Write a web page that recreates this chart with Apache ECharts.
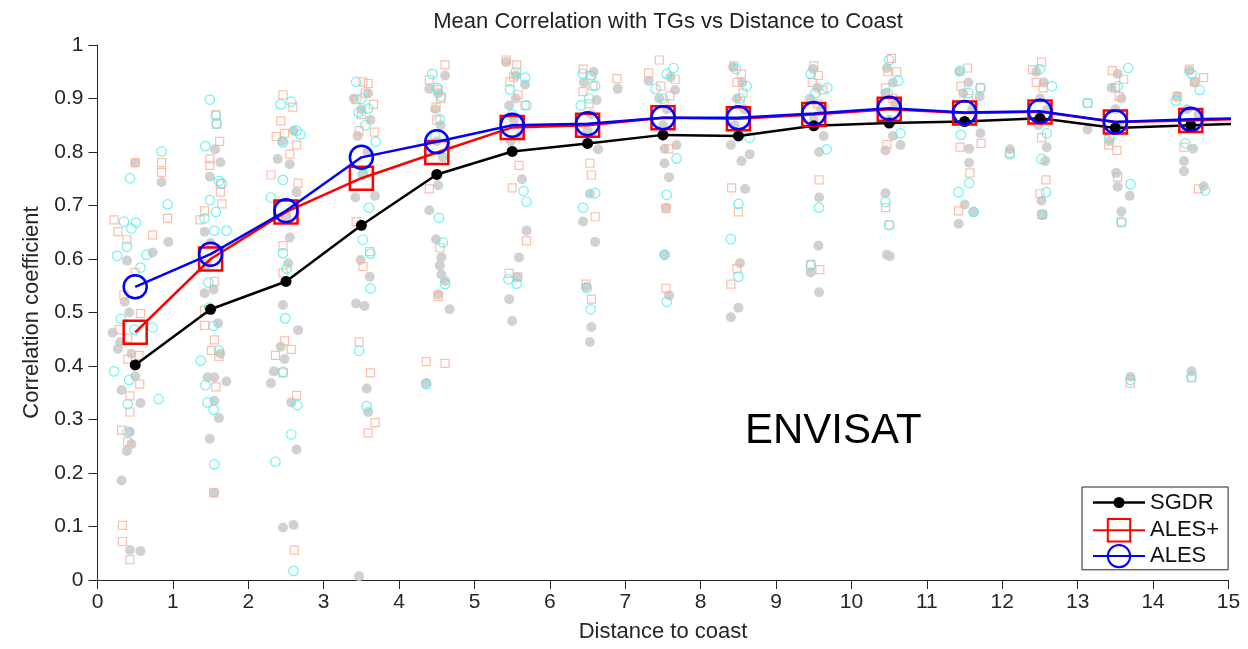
<!DOCTYPE html>
<html><head><meta charset="utf-8">
<script src="https://cdn.jsdelivr.net/npm/echarts@6/dist/echarts.min.js"></script>
<style>html,body{margin:0;padding:0;background:#fff}#c{width:1248px;height:649px}</style>
</head><body><div id="c"></div>
<script>
// Bin centres (km); the last bin lies beyond the axis and is clipped by the plot edge
const distanceBins = [0.5,1.5,2.5,3.5,4.5,5.5,6.5,7.5,8.5,9.5,10.5,11.5,12.5,13.5,14.5,15.5];
const sgdrMean     = [0.402,0.506,0.558,0.663,0.758,0.801,0.816,0.832,0.830,0.849,0.854,0.857,0.863,0.845,0.850,0.854];
const alesPlusMean = [0.463,0.600,0.688,0.751,0.799,0.846,0.850,0.864,0.862,0.870,0.880,0.873,0.875,0.856,0.859,0.863];
const alesMean     = [0.548,0.609,0.690,0.790,0.819,0.850,0.853,0.864,0.864,0.872,0.882,0.874,0.876,0.856,0.861,0.864];

// individual tide-gauge correlations [distance, r]
const sgdrPts = [
[0.50,0.780],[0.85,0.744],[0.94,0.632],[0.73,0.612],[0.39,0.597],[0.36,0.520],[0.20,0.462],[0.27,0.432],[0.45,0.423],[0.50,0.381],[0.32,0.355],[0.57,0.331],[0.43,0.277],[0.45,0.254],[0.39,0.241],[0.32,0.186],[0.43,0.056],[0.57,0.054],[0.30,0.445],[0.42,0.500],
[1.56,0.805],[1.63,0.781],[1.49,0.754],[1.42,0.651],[1.50,0.630],[1.42,0.536],[1.54,0.543],[1.63,0.423],[1.46,0.379],[1.55,0.379],[1.71,0.371],[1.55,0.335],[1.61,0.303],[1.49,0.264],[1.55,0.163],[1.45,0.590],[1.60,0.480],
[2.39,0.787],[2.55,0.777],[2.64,0.725],[2.53,0.592],[2.46,0.514],[2.66,0.467],[2.43,0.436],[2.48,0.413],[2.34,0.390],[2.30,0.368],[2.57,0.332],[2.64,0.244],[2.46,0.098],[2.60,0.103],[2.50,0.680],[2.45,0.820],[2.60,0.840],[2.55,0.640],
[3.59,0.910],[3.50,0.880],[3.62,0.860],[3.45,0.830],[3.58,0.800],[3.42,0.715],[3.68,0.718],[3.49,0.598],[3.61,0.567],[3.43,0.517],[3.54,0.512],[3.57,0.358],[3.59,0.314],[3.47,0.007],[3.52,0.760],[3.40,0.900],
[4.61,0.943],[4.40,0.918],[4.52,0.910],[4.48,0.880],[4.55,0.850],[4.50,0.820],[4.52,0.738],[4.40,0.691],[4.49,0.637],[4.56,0.603],[4.54,0.588],[4.56,0.571],[4.61,0.559],[4.52,0.534],[4.67,0.506],[4.36,0.368],[4.58,0.790],
[5.42,0.968],[5.55,0.943],[5.67,0.926],[5.46,0.887],[5.52,0.860],[5.60,0.830],[5.48,0.820],[5.63,0.749],[5.69,0.653],[5.59,0.603],[5.57,0.566],[5.46,0.525],[5.50,0.484],[5.55,0.900],
[6.90,0.918],[6.62,0.897],[6.45,0.930],[6.55,0.870],[6.50,0.840],[6.64,0.805],[6.53,0.722],[6.44,0.670],[6.60,0.632],[6.48,0.548],[6.55,0.473],[6.53,0.445],[6.58,0.950],
[7.31,0.933],[7.66,0.916],[7.45,0.900],[7.55,0.880],[7.50,0.850],[7.68,0.813],[7.52,0.806],[7.52,0.779],[7.58,0.753],[7.54,0.696],[7.52,0.608],[7.58,0.532],[7.60,0.940],
[8.43,0.959],[8.55,0.930],[8.48,0.900],[8.58,0.880],[8.45,0.850],[8.40,0.813],[8.54,0.783],[8.65,0.796],[8.59,0.731],[8.52,0.592],[8.50,0.509],[8.40,0.491],
[9.49,0.955],[9.55,0.920],[9.45,0.900],[9.60,0.880],[9.50,0.860],[9.57,0.800],[9.57,0.715],[9.56,0.625],[9.46,0.575],[9.57,0.538],[9.63,0.830],
[10.47,0.957],[10.55,0.930],[10.45,0.910],[10.58,0.890],[10.50,0.860],[10.45,0.803],[10.65,0.813],[10.45,0.723],[10.47,0.608],[10.51,0.605],[10.55,0.830],
[11.43,0.950],[11.55,0.930],[11.48,0.910],[11.70,0.904],[11.60,0.880],[11.71,0.835],[11.56,0.806],[11.56,0.780],[11.50,0.702],[11.62,0.688],[11.42,0.666],
[12.10,0.805],[13.13,0.842],[12.45,0.950],[12.55,0.930],[12.50,0.900],[12.60,0.880],[12.59,0.809],[12.57,0.783],[12.52,0.709],[12.53,0.683],[12.48,0.850],
[13.53,0.946],[13.45,0.920],[13.58,0.900],[13.50,0.880],[13.42,0.820],[13.51,0.761],[13.53,0.735],[13.69,0.718],[13.58,0.689],[13.70,0.380],[13.55,0.850],
[14.48,0.952],[14.55,0.930],[14.32,0.904],[14.45,0.880],[14.53,0.806],[14.41,0.783],[14.41,0.764],[14.67,0.736],[14.51,0.390],[14.60,0.870]
];
const alesPlusPts = [
[0.50,0.780],[0.85,0.780],[0.85,0.762],[0.22,0.673],[0.27,0.651],[0.39,0.636],[0.73,0.645],[0.93,0.676],[0.50,0.575],[0.35,0.533],[0.57,0.498],[0.29,0.468],[0.40,0.452],[0.55,0.420],[0.40,0.413],[0.56,0.366],[0.43,0.344],[0.43,0.314],[0.32,0.280],[0.40,0.258],[0.33,0.102],[0.33,0.072],[0.43,0.038],
[1.57,0.870],[1.58,0.852],[1.62,0.820],[1.49,0.787],[1.49,0.775],[1.63,0.741],[1.63,0.725],[1.65,0.703],[1.42,0.690],[1.36,0.673],[1.55,0.558],[1.42,0.504],[1.42,0.476],[1.55,0.449],[1.51,0.429],[1.61,0.418],[1.57,0.361],[1.54,0.163],
[2.46,0.907],[2.59,0.884],[2.43,0.858],[2.37,0.829],[2.48,0.835],[2.64,0.813],[2.55,0.796],[2.30,0.757],[2.66,0.742],[2.50,0.679],[2.46,0.625],[2.46,0.574],[2.48,0.447],[2.57,0.431],[2.36,0.420],[2.46,0.387],[2.64,0.345],[2.61,0.056],
[3.52,0.931],[3.59,0.928],[3.43,0.898],[3.66,0.889],[3.55,0.910],[3.50,0.870],[3.47,0.840],[3.67,0.837],[3.43,0.670],[3.61,0.614],[3.52,0.586],[3.47,0.445],[3.62,0.387],[3.68,0.294],[3.59,0.275],
[4.61,0.963],[4.40,0.935],[4.52,0.917],[4.49,0.884],[4.55,0.900],[4.50,0.860],[4.40,0.731],[4.54,0.621],[4.52,0.530],[4.36,0.408],[4.61,0.405],
[5.42,0.972],[5.56,0.963],[5.47,0.931],[5.58,0.907],[5.67,0.887],[5.52,0.940],[5.59,0.775],[5.50,0.733],[5.69,0.634],[5.46,0.573],[5.57,0.566],
[6.44,0.955],[6.53,0.943],[6.57,0.923],[6.89,0.937],[6.44,0.913],[6.52,0.890],[6.53,0.779],[6.55,0.757],[6.60,0.679],[6.48,0.553],[6.55,0.525],
[7.45,0.972],[7.31,0.948],[7.66,0.936],[7.47,0.923],[7.59,0.905],[7.52,0.890],[7.58,0.806],[7.54,0.694],[7.54,0.545],
[8.44,0.961],[8.54,0.946],[8.56,0.910],[8.48,0.930],[8.52,0.890],[8.41,0.733],[8.50,0.688],[8.48,0.582],[8.40,0.553],
[9.50,0.961],[9.56,0.943],[9.62,0.916],[9.48,0.930],[9.55,0.890],[9.57,0.748],[9.58,0.580],[9.46,0.590],
[10.53,0.975],[10.48,0.950],[10.60,0.950],[10.45,0.920],[10.55,0.900],[10.47,0.814],[10.45,0.696],[10.50,0.664],
[11.54,0.957],[11.45,0.923],[11.71,0.920],[11.55,0.900],[11.44,0.809],[11.72,0.816],[11.57,0.761],[11.42,0.690],
[12.52,0.968],[12.40,0.954],[12.54,0.920],[12.45,0.930],[12.10,0.798],[13.13,0.891],[12.52,0.827],[12.58,0.748],[12.53,0.683],[12.50,0.722],
[13.46,0.952],[13.61,0.936],[13.55,0.904],[13.50,0.920],[13.41,0.813],[13.52,0.803],[13.53,0.753],[13.58,0.668],[13.70,0.368],
[14.48,0.955],[14.55,0.931],[14.67,0.939],[14.32,0.904],[14.41,0.809],[14.60,0.731],[14.51,0.378]
];
const alesPts = [
[0.85,0.801],[0.43,0.751],[0.93,0.702],[0.35,0.670],[0.51,0.668],[0.45,0.657],[0.39,0.623],[0.26,0.606],[0.65,0.608],[0.57,0.584],[0.31,0.488],[0.49,0.468],[0.73,0.472],[0.22,0.390],[0.42,0.374],[0.81,0.338],[0.40,0.329],[0.40,0.277],
[1.49,0.898],[1.57,0.868],[1.58,0.853],[1.43,0.811],[1.61,0.746],[1.65,0.741],[1.49,0.710],[1.57,0.688],[1.42,0.676],[1.55,0.653],[1.71,0.653],[1.47,0.556],[1.48,0.509],[1.54,0.475],[1.61,0.429],[1.37,0.410],[1.43,0.364],[1.46,0.332],[1.54,0.318],[1.55,0.216],
[2.43,0.889],[2.57,0.894],[2.64,0.840],[2.69,0.833],[2.46,0.818],[2.46,0.748],[2.30,0.715],[2.46,0.611],[2.51,0.582],[2.49,0.489],[2.46,0.389],[2.65,0.327],[2.57,0.272],[2.36,0.221],[2.60,0.017],
[3.43,0.931],[3.46,0.874],[3.59,0.881],[3.50,0.900],[3.55,0.850],[3.69,0.819],[3.52,0.757],[3.60,0.696],[3.52,0.636],[3.62,0.610],[3.62,0.545],[3.47,0.428],[3.57,0.325],
[4.44,0.946],[4.56,0.904],[4.50,0.920],[4.54,0.861],[4.48,0.830],[4.53,0.677],[4.58,0.631],[4.61,0.553],[4.36,0.366],
[5.67,0.939],[5.47,0.917],[5.69,0.887],[5.55,0.950],[5.50,0.870],[5.65,0.727],[5.69,0.707],[5.45,0.562],[5.56,0.554],
[6.44,0.946],[6.55,0.943],[6.60,0.924],[6.41,0.887],[6.52,0.900],[6.60,0.723],[6.44,0.696],[6.49,0.546],[6.54,0.506],
[7.64,0.957],[7.55,0.946],[7.40,0.918],[7.50,0.900],[7.68,0.788],[7.55,0.720],[7.52,0.608],[7.55,0.520],
[8.47,0.955],[8.61,0.923],[8.52,0.900],[8.65,0.827],[8.50,0.703],[8.40,0.637],[8.50,0.567],
[9.46,0.946],[9.68,0.920],[9.52,0.910],[9.67,0.805],[9.57,0.696],[9.46,0.588],
[10.50,0.972],[10.62,0.933],[10.48,0.910],[10.65,0.835],[10.45,0.707],[10.50,0.663],
[11.44,0.952],[11.71,0.920],[11.55,0.910],[11.45,0.832],[11.56,0.742],[11.42,0.725],[11.62,0.688],
[12.50,0.955],[12.66,0.923],[12.10,0.796],[13.13,0.892],[12.59,0.835],[12.52,0.787],[12.58,0.725],[12.53,0.683],
[13.67,0.957],[13.53,0.923],[13.42,0.826],[13.70,0.740],[13.58,0.670],[13.70,0.374],
[14.51,0.946],[14.62,0.916],[14.30,0.896],[14.43,0.816],[14.69,0.728],[14.51,0.380]
];

const FONT = 'Liberation Sans, Arial, sans-serif';
const AX = '#262626';
// legend glyph for SGDR: line with a small dot (box 52x28 kept by corner points)
const SGDR_ICON = 'path://M0,0L0.02,0L0,0.02Z M52,28L51.98,28L52,27.98Z M0,12.75L52,12.75L52,15.25L0,15.25Z M20.5,14A5.5,5.5 0 1 1 31.5,14A5.5,5.5 0 1 1 20.5,14Z';
const chart = echarts.init(document.getElementById('c'), null, {renderer: 'canvas'});
const pair = (arr) => distanceBins.map((x, i) => [x, arr[i]]);
chart.setOption({
  animation: false,
  backgroundColor: '#fff',
  title: {
    text: 'Mean Correlation with TGs vs Distance to Coast',
    left: 663, top: 6, textAlign: 'center',
    textStyle: {fontFamily: FONT, fontSize: 22, fontWeight: 'normal', color: '#222'}
  },
  grid: {left: 97.5, right: 19.5, top: 45, bottom: 69},
  xAxis: {
    type: 'value', min: 0, max: 15, interval: 1,
    name: 'Distance to coast', nameLocation: 'middle', nameGap: 41,
    nameTextStyle: {fontFamily: FONT, fontSize: 22, color: AX},
    axisLine: {show: true, lineStyle: {color: AX, width: 1}},
    axisTick: {show: true, inside: false, length: 9, lineStyle: {color: AX}},
    axisLabel: {fontFamily: FONT, fontSize: 21, color: AX, margin: 12},
    splitLine: {show: false}
  },
  yAxis: {
    type: 'value', min: 0, max: 1, interval: 0.1,
    name: 'Correlation coefficient', nameLocation: 'middle', nameGap: 54,
    nameTextStyle: {fontFamily: FONT, fontSize: 22, color: AX},
    axisLine: {show: true, lineStyle: {color: AX, width: 1}},
    axisTick: {show: true, inside: false, length: 9, lineStyle: {color: AX}},
    axisLabel: {fontFamily: FONT, fontSize: 21, color: AX, margin: 14},
    splitLine: {show: false}
  },
  legend: {
    data: [{name: 'SGDR', icon: SGDR_ICON}, {name: 'ALES+'}, {name: 'ALES'}],
    orient: 'vertical', left: 1082, top: 487,
    itemWidth: 52, itemHeight: 28, itemGap: 1.5,
    padding: [1.5, 9, 1.5, 10],
    borderColor: AX, borderWidth: 1, backgroundColor: '#fff',
    textStyle: {fontFamily: FONT, fontSize: 22, color: '#111'}
  },
  graphic: [{
    type: 'text', left: 745, top: 410,
    style: {text: 'ENVISAT', font: '42px "Liberation Sans", Arial, sans-serif', fill: '#000'}
  }],
  series: [
    {name: 'SGDR pts', type: 'scatter', data: sgdrPts, symbol: 'circle', symbolSize: 10,
     itemStyle: {color: '#cccccc', opacity: 0.9}, silent: true, z: 1},
    {name: 'ALES+ pts', type: 'scatter', data: alesPlusPts, symbol: 'rect', symbolSize: 8,
     itemStyle: {color: 'rgba(255,255,255,0)', borderColor: '#fcae95', borderWidth: 1.2}, silent: true, z: 2},
    {name: 'ALES pts', type: 'scatter', data: alesPts, symbol: 'circle', symbolSize: 9.5,
     itemStyle: {color: 'rgba(255,255,255,0)', borderColor: '#4cf0f0', borderWidth: 1.2}, silent: true, z: 3},
    {name: 'SGDR', type: 'line', data: pair(sgdrMean), symbol: 'circle', symbolSize: 11, clip: true,
     lineStyle: {color: '#000', width: 2.5}, itemStyle: {color: '#000'}, z: 4},
    {name: 'ALES+', type: 'line', data: pair(alesPlusMean), symbol: 'rect', symbolSize: 23, clip: true,
     lineStyle: {color: '#ff0000', width: 2.5},
     itemStyle: {color: 'rgba(255,255,255,0)', borderColor: '#ff0000', borderWidth: 2.5}, z: 5},
    {name: 'ALES', type: 'line', data: pair(alesMean), symbol: 'circle', symbolSize: 23, clip: true,
     lineStyle: {color: '#0000ff', width: 2.5},
     itemStyle: {color: 'rgba(255,255,255,0)', borderColor: '#0000ff', borderWidth: 2.5}, z: 6}
  ]
});
</script></body></html>
